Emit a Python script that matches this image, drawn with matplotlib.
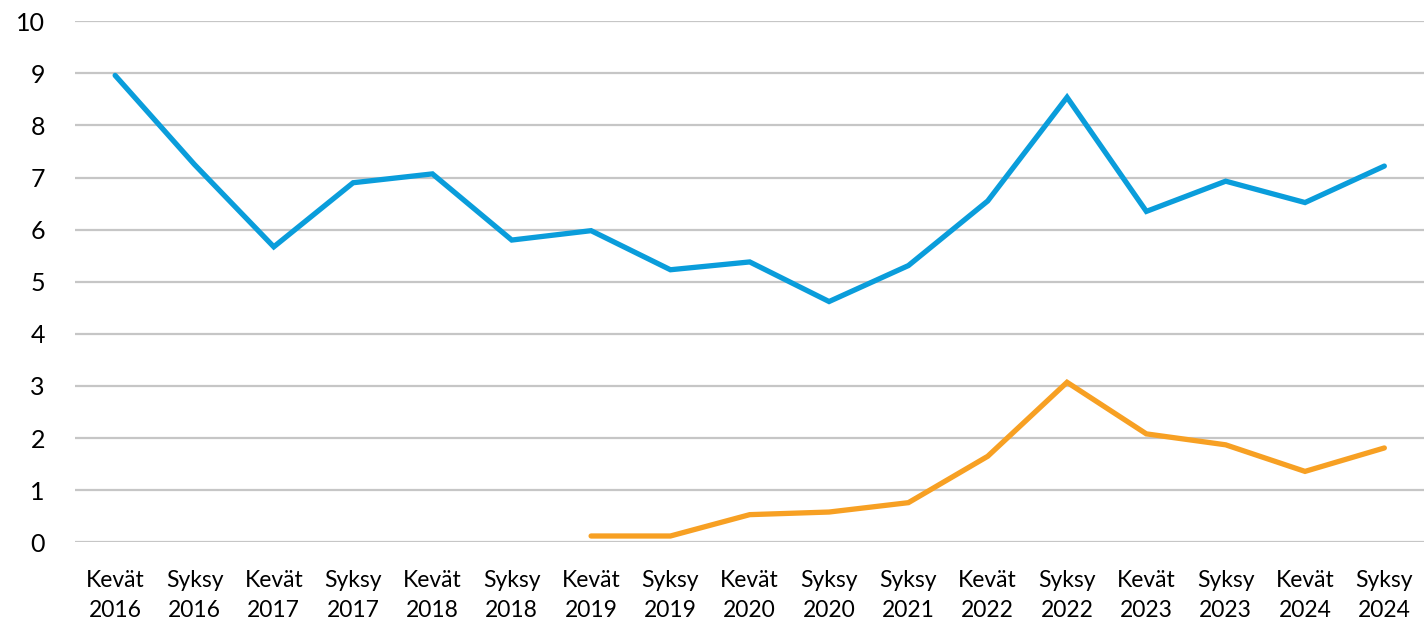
import matplotlib.pyplot as plt

# kaudet
labels = ["Kevät\n2016", "Syksy\n2016", "Kevät\n2017", "Syksy\n2017", "Kevät\n2018",
          "Syksy\n2018", "Kevät\n2019", "Syksy\n2019", "Kevät\n2020", "Syksy\n2020",
          "Syksy\n2021", "Kevät\n2022", "Syksy\n2022", "Kevät\n2023", "Syksy\n2023",
          "Kevät\n2024", "Syksy\n2024"]

blue = [8.96, 7.25, 5.67, 6.9, 7.07, 5.8, 5.98, 5.23, 5.38, 4.62,
        5.31, 6.55, 8.54, 6.35, 6.93, 6.52, 7.22]
orange = [None] * 6 + [0.12, 0.12, 0.53, 0.58, 0.76, 1.65, 3.07, 2.08, 1.87, 1.36, 1.81]

plt.rcParams['font.family'] = ['Lato', 'DejaVu Sans']

fig = plt.figure(figsize=(14.24, 6.24), dpi=100)
ax = fig.add_axes([0.053, 0.131, 0.947, 0.835])

x = list(range(len(labels)))
ax.plot(x, blue, color='#0a9ddb', lw=3.8, solid_capstyle='round', solid_joinstyle='miter')
ox = [i for i, v in enumerate(orange) if v is not None]
oy = [v for v in orange if v is not None]
ax.plot(ox, oy, color='#f7a023', lw=3.8, solid_capstyle='round', solid_joinstyle='miter')

ax.set_xlim(-0.5, len(labels) - 0.5)
ax.set_ylim(0, 10)
ax.set_yticks(range(0, 11))
ax.set_xticks(x)
ax.set_xticklabels(labels, fontsize=16.5, linespacing=1.55)
ax.tick_params(axis='y', labelsize=18, length=0, pad=22)
ax.tick_params(axis='x', length=0, pad=20)
ax.grid(axis='y', color='#c6c6c6', lw=1.6)
ax.set_axisbelow(True)
for s in ax.spines.values():
    s.set_visible(False)

fig.savefig('out.png', dpi=100)
